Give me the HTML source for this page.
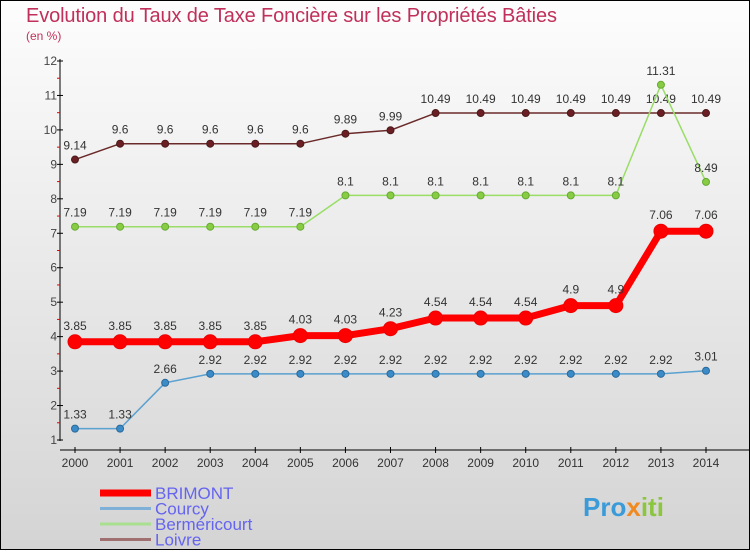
<!DOCTYPE html>
<html><head><meta charset="utf-8"><style>
html,body{margin:0;padding:0}
body{width:750px;height:550px;overflow:hidden;font-family:"Liberation Sans",sans-serif}
</style></head><body>
<svg id="c" width="750" height="550" xmlns="http://www.w3.org/2000/svg" font-family="Liberation Sans, sans-serif">
<defs><linearGradient id="bg" x1="0" y1="0" x2="0" y2="1"><stop offset="0" stop-color="#fdfdfd"/><stop offset="1" stop-color="#d4d4d4"/></linearGradient></defs>
<rect x="0.5" y="0.5" width="749" height="549" fill="url(#bg)" stroke="#000"/>
<text x="26" y="22" font-size="20" fill="#c0305a" textLength="531">Evolution du Taux de Taxe Foncière sur les Propriétés Bâties</text>
<text x="26" y="40" font-size="12" fill="#c0305a">(en %)</text>
<g id="axes"></g><g id="series"></g><g id="legend"></g>
<text x="583" y="516" font-size="26" font-weight="bold" fill="#3a9bd8">Pro<tspan fill="#f08a20">x</tspan><tspan fill="#8cc63f">iti</tspan></text>
</svg>
<script>
const years=[2000,2001,2002,2003,2004,2005,2006,2007,2008,2009,2010,2011,2012,2013,2014];
const brimont=[3.85,3.85,3.85,3.85,3.85,4.03,4.03,4.23,4.54,4.54,4.54,4.9,4.9,7.06,7.06];
const courcy=[1.33,1.33,2.66,2.92,2.92,2.92,2.92,2.92,2.92,2.92,2.92,2.92,2.92,2.92,3.01];
const bermericourt=[7.19,7.19,7.19,7.19,7.19,7.19,8.1,8.1,8.1,8.1,8.1,8.1,8.1,11.31,8.49];
const loivre=[9.14,9.6,9.6,9.6,9.6,9.6,9.89,9.99,10.49,10.49,10.49,10.49,10.49,10.49,10.49];
const yTicks=[1,2,3,4,5,6,7,8,9,10,11,12];
const NS="http://www.w3.org/2000/svg";
const X=i=>75+i*(706-75)/14;
const Y=v=>440-(v-1)*(440-61)/11;
function mk(p,t,a){const e=document.createElementNS(NS,t);for(const k in a)e.setAttribute(k,a[k]);p.appendChild(e);return e;}
const ax=document.getElementById('axes');
let e=mk(ax,'line',{x1:60,y1:59,x2:60,y2:441,stroke:'#000'});

e=mk(ax,'line',{x1:60,y1:450,x2:750,y2:450,stroke:'#000'});

yTicks.forEach(v=>{
  mk(ax,'line',{x1:57,x2:63,y1:Y(v),y2:Y(v),stroke:'#000'});
  if(v<12)mk(ax,'line',{x1:57,x2:60,y1:Y(v+0.5),y2:Y(v+0.5),stroke:'#e00'});
  const t=mk(ax,'text',{x:57,y:Y(v)+4,'font-size':12,fill:'#444','text-anchor':'end'});t.textContent=v;
  
});
years.forEach((y,i)=>{
  mk(ax,'line',{x1:X(i),x2:X(i),y1:447,y2:453,stroke:'#000'});
  const t=mk(ax,'text',{x:X(i),y:467,'font-size':12,fill:'#333','text-anchor':'middle'});t.textContent=y;
  
});
const sg=document.getElementById('series');
function series(vals,name,color,w,r,fill,stroke,lblOff){
  const g=mk(sg,'g',{});
  
  mk(g,'polyline',{points:vals.map((v,i)=>X(i)+','+Y(v)).join(' '),fill:'none',stroke:color,'stroke-width':w,'stroke-linejoin':'round'});
  vals.forEach((v,i)=>{
    const c=mk(g,'circle',{cx:X(i),cy:Y(v),r:r,fill:fill,stroke:stroke});
    
    const t=mk(g,'text',{x:X(i),y:Y(v)-lblOff,'font-size':12,fill:'#333','text-anchor':'middle'});
    t.textContent=String(v);
    
  });
}
series(loivre,'loivre','#6b2a2a',1.5,3.5,'#6b1f24','#4a1a1a',10);
series(bermericourt,'bermericourt','#99dd66',1.5,3.5,'#88cc44','#66aa33',10);
series(courcy,'courcy','#5aa0d0',1.5,3.5,'#3a8bc8','#2a6a9a',10);
series(brimont,'brimont','#ff0000',7,7,'#ff0000','#ee0000',12);
const lg=document.getElementById('legend');
[['BRIMONT','#ff0000',7],['Courcy','#7fb0d8',3],['Bermericourt','#a8e090',3],['Loivre','#a07070',3]].forEach((d,i)=>{
  const y=493+i*15.5;
  const g=mk(lg,'g',{});
  
  mk(g,'line',{x1:100,x2:151,y1:y,y2:y,stroke:d[1],'stroke-width':d[2]});
  const t=mk(g,'text',{x:155,y:y+6,'font-size':17,fill:'#6464f0'});t.textContent=d[0]==='Bermericourt'?'Berméricourt':d[0];
});
</script>
</body></html>
